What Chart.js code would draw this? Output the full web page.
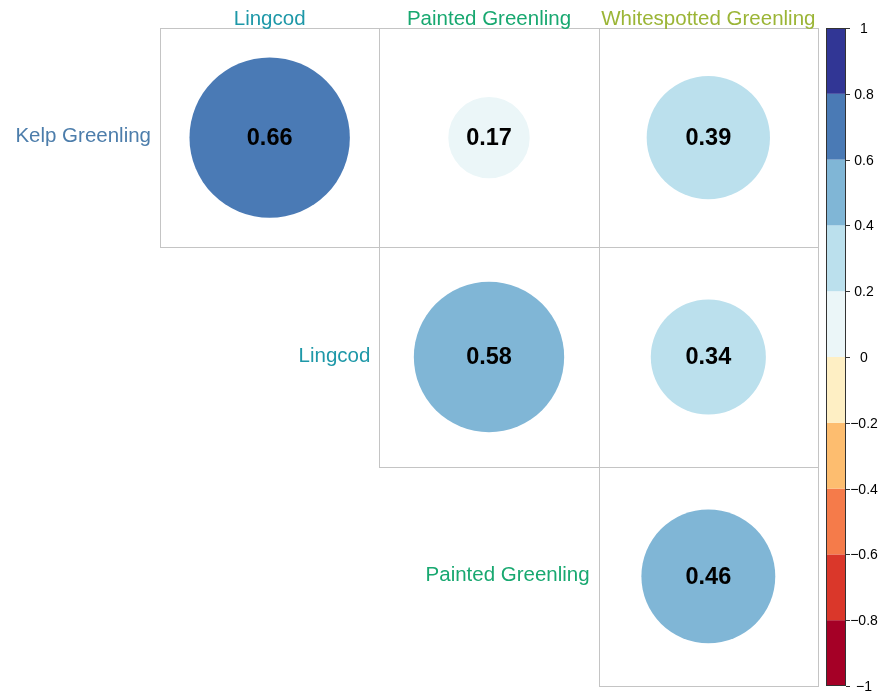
<!DOCTYPE html>
<html>
<head>
<meta charset="utf-8">
<script src="https://cdn.jsdelivr.net/npm/chart.js@4"></script>
<style>
  html, body { margin: 0; padding: 0; background: #fff; }
  #wrap { width: 881px; height: 693px; }
</style>
</head>
<body>
<div id="wrap"><canvas id="corrChart" width="881" height="693"></canvas></div>
<script>
// datos de la matriz (triangulo superior)
const rowLabels = ['Kelp Greenling', 'Lingcod', 'Painted Greenling'];
const colLabels = ['Lingcod', 'Painted Greenling', 'Whitespotted Greenling'];
const rowColors = ['#4C7DAB', '#1E98A8', '#18A870'];
const colColors = ['#1E98A8', '#18A870', '#9BB536'];
const corrRow1 = [0.66, 0.17, 0.39];
const corrRow2 = [null, 0.58, 0.34];
const corrRow3 = [null, null, 0.46];
const corrRows = [corrRow1, corrRow2, corrRow3];

// barra de color
const colorBreaks = [-1, -0.8, -0.6, -0.4, -0.2, 0, 0.2, 0.4, 0.6, 0.8, 1];
const binColors = ['#A50026', '#DA372A', '#F57B4A', '#FDBD6F', '#FEEFC4',
                   '#EBF6F8', '#BBE0ED', '#80B6D6', '#4A7AB5', '#313695'];
const tickLabels = ['1', '0.8', '0.6', '0.4', '0.2', '0', '\u22120.2', '\u22120.4', '\u22120.6', '\u22120.8', '\u22121'];
const tickValues = [1, 0.8, 0.6, 0.4, 0.2, 0, -0.2, -0.4, -0.6, -0.8, -1];

function colorFor(v) {
  for (let i = 0; i < binColors.length; i++) {
    if (v >= colorBreaks[i] && v <= colorBreaks[i + 1]) return binColors[i];
  }
  return '#ffffff';
}

const points = [];
corrRows.forEach((row, r) => {
  row.forEach((v, c) => {
    if (v !== null) points.push({ x: c + 1, y: r + 1, v: v });
  });
});

const FONT = '"Liberation Sans", Arial, sans-serif';

// grid, etiquetas, numeros y barra de color
const corrDecor = {
  id: 'corrDecor',
  beforeDatasetsDraw(chart) {
    const { ctx, scales: { x, y } } = chart;
    ctx.save();
    ctx.strokeStyle = '#C4C4C4';
    ctx.lineWidth = 1;
    corrRows.forEach((row, r) => {
      row.forEach((v, c) => {
        if (v === null) return;
        const x0 = Math.round(x.getPixelForValue(c + 0.5)) + 0.5;
        const x1 = Math.round(x.getPixelForValue(c + 1.5)) + 0.5;
        const y0 = Math.round(y.getPixelForValue(r + 0.5)) + 0.5;
        const y1 = Math.round(y.getPixelForValue(r + 1.5)) + 0.5;
        ctx.strokeRect(x0, y0, x1 - x0, y1 - y0);
      });
    });
    ctx.restore();
  },
  afterDatasetsDraw(chart) {
    const { ctx, scales: { x, y, cb } } = chart;
    ctx.save();
    // etiquetas de columnas
    ctx.font = '20.5px ' + FONT;
    ctx.textAlign = 'center';
    ctx.textBaseline = 'middle';
    colLabels.forEach((lab, c) => {
      ctx.fillStyle = colColors[c];
      ctx.fillText(lab, x.getPixelForValue(c + 1), y.getPixelForValue(0.5) - 9);
    });
    // etiquetas de filas
    ctx.textAlign = 'right';
    rowLabels.forEach((lab, r) => {
      ctx.fillStyle = rowColors[r];
      ctx.fillText(lab, x.getPixelForValue(r + 0.5) - 9, y.getPixelForValue(r + 1) - 1);
    });
    // valores
    ctx.font = 'bold 23.5px ' + FONT;
    ctx.textAlign = 'center';
    ctx.fillStyle = '#000';
    points.forEach(p => {
      ctx.fillText(p.v.toFixed(2), x.getPixelForValue(p.x), y.getPixelForValue(p.y) + 1);
    });

    // barra de color
    const bx0 = x.right + 8, bx1 = x.right + 28;
    for (let i = 0; i < binColors.length; i++) {
      const ya = cb.getPixelForValue(colorBreaks[i]);
      const yb = cb.getPixelForValue(colorBreaks[i + 1]);
      ctx.fillStyle = binColors[i];
      ctx.fillRect(bx0, yb, bx1 - bx0, ya - yb);
    }
    ctx.strokeStyle = '#333';
    ctx.lineWidth = 1;
    const top = cb.getPixelForValue(1), bot = cb.getPixelForValue(-1);
    ctx.strokeRect(bx0 + 0.5, top + 0.5, bx1 - bx0 - 1, bot - top - 1);
    ctx.font = '14px ' + FONT;
    ctx.fillStyle = '#000';
    ctx.textAlign = 'center';
    ctx.textBaseline = 'middle';
    tickValues.forEach((t, i) => {
      const ty = Math.round(cb.getPixelForValue(t)) + 0.5;
      ctx.beginPath();
      ctx.moveTo(bx1, ty);
      ctx.lineTo(bx1 + 4, ty);
      ctx.stroke();
      ctx.fillText(tickLabels[i], bx1 + 18, ty + 1);
    });
    ctx.restore();
  }
};

// circulos: area proporcional a |r|
const chart = new Chart(document.getElementById('corrChart'), {
  type: 'scatter',
  data: {
    datasets: [{
      data: points,
      pointBackgroundColor: ctx => ctx.raw ? colorFor(ctx.raw.v) : '#fff',
      pointBorderWidth: 0,
      pointRadius: ctx => {
        if (!ctx.raw) return 0;
        const sx = ctx.chart.scales.x;
        const cell = Math.abs(sx.getPixelForValue(1) - sx.getPixelForValue(0));
        return Math.sqrt(Math.abs(ctx.raw.v)) * cell * 0.45;
      }
    }]
  },
  options: {
    responsive: false,
    animation: false,
    events: [],
    layout: { padding: { left: 160, right: 63, top: 28, bottom: 7 } },
    scales: {
      x: { type: 'linear', min: 0.5, max: 3.5, display: false },
      y: { type: 'linear', min: 0.5, max: 3.5, reverse: true, display: false },
      cb: { type: 'linear', min: -1, max: 1, display: false, position: 'right' }
    },
    plugins: { legend: { display: false }, tooltip: { enabled: false } }
  },
  plugins: [corrDecor]
});
</script>
</body>
</html>
